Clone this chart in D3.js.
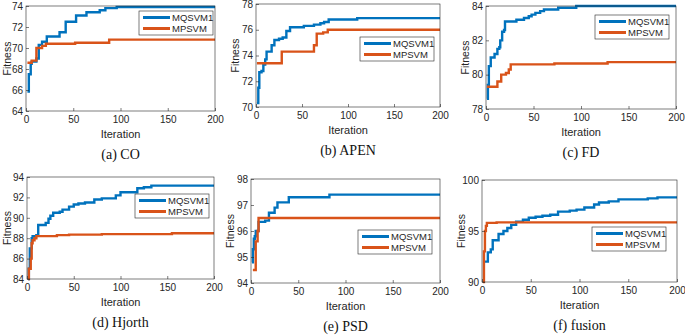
<!DOCTYPE html>
<html>
<head>
<meta charset="utf-8">
<script src="https://cdn.jsdelivr.net/npm/d3@7"></script>
<style>
  body { margin: 0; background: #fff; }
  svg { display: block; }
</style>
</head>
<body>
<svg id="chart" width="685" height="336"></svg>
<script>
// series: [iteration, fitness] breakpoints of the stair curves
const seriesNames = ["MQSVM1", "MPSVM"];
const captions = ["(a) CO", "(b) APEN", "(c) FD", "(d) Hjorth", "(e) PSD", "(f) fusion"];
const yDomains = [[64, 74], [70, 78], [78, 84], [84, 94], [94, 98], [90, 100]];
const yTicks = [[64, 66, 68, 70, 72, 74], [70, 72, 74, 76, 78], [78, 80, 82, 84],
                [84, 86, 88, 90, 92, 94], [94, 95, 96, 97, 98], [90, 95, 100]];
const xTicks = [0, 50, 100, 150, 200];

const coBlue = [[1.5, 65.85], [3, 67.5], [5, 68.5], [6, 68.7], [11, 69.0], [13.5, 70.3], [17, 70.6],
  [22, 71.1], [35.5, 71.5], [42, 72.5], [53, 73.1], [64, 73.4], [78, 73.6], [84, 73.8], [96, 73.9]];
const coOrange = [[1.5, 68.6], [6, 68.8], [11, 70.0], [17, 70.2], [21, 70.4], [52, 70.5], [88, 70.8]];

const apenBlue = [[1, 70.3], [2.5, 71.5], [3.6, 72.7], [6, 72.8], [8, 73.3], [10, 73.7], [11.5, 74.3],
  [17, 74.8], [20, 75.2], [25, 75.3], [29, 75.4], [33, 75.9], [37, 76.2], [52, 76.3], [63, 76.4],
  [70, 76.5], [74, 76.6], [79, 76.8], [110, 76.9]];
const apenOrange = [[1, 73.4], [28, 74.3], [60, 74.3], [63, 74.8], [66, 75.7], [73, 75.8], [78, 76.0]];

const fdBlue = [[1, 78.6], [2, 79.4], [3, 80.5], [5, 81.0], [9, 81.2], [12, 81.5], [14, 81.6], [15, 82.0],
  [17, 82.5], [19, 82.6], [20, 83.1], [32, 83.2], [40, 83.3], [45, 83.4], [48, 83.5], [52, 83.6],
  [57, 83.7], [61, 83.8], [76, 83.9], [95, 84.0]];
const fdOrange = [[1, 79.3], [12, 79.6], [16, 80.0], [21, 80.1], [24, 80.3], [26, 80.6], [72, 80.65], [128, 80.73]];

const hjBlue = [[1, 84.0], [2, 85.0], [3, 87.0], [5, 88.0], [6, 88.2], [10, 88.3], [12, 89.3], [20, 89.5],
  [23, 89.9], [25, 90.2], [28, 90.5], [35, 90.6], [38, 90.8], [45, 91.1], [50, 91.3], [55, 91.4],
  [62, 91.5], [72, 91.8], [80, 91.9], [95, 92.2], [100, 92.5], [118, 92.9], [125, 93.0], [133, 93.15]];
const hjOrange = [[1, 84.0], [2, 85.0], [4, 86.0], [5, 87.5], [6, 87.8], [8, 88.0], [10, 88.2],
  [32, 88.3], [45, 88.35], [80, 88.4], [155, 88.48]];

const psdBlue = [[1, 94.8], [2, 95.3], [3, 95.7], [4, 95.8], [5, 96.0], [8, 96.35], [15, 96.4],
  [19, 96.7], [25, 96.9], [28, 97.1], [40, 97.3], [83, 97.4]];
const psdOrange = [[2, 94.5], [5, 95.6], [7, 96.0], [8, 96.5]];

const fuBlue = [[3, 92.0], [6, 92.9], [9, 93.2], [11, 94.1], [17, 94.7], [22, 95.0], [26, 95.3],
  [30, 95.6], [35, 95.9], [42, 96.1], [48, 96.3], [55, 96.4], [62, 96.5], [70, 96.6], [78, 96.9],
  [90, 97.0], [97, 97.1], [105, 97.3], [115, 97.6], [120, 97.8], [130, 97.9], [140, 98.1],
  [170, 98.2], [180, 98.3]];
const fuOrange = [[1, 90.0], [2, 93.0], [3, 95.0], [4, 95.5], [5, 95.8], [15, 95.85]];

const panelSeries = [[coBlue, coOrange], [apenBlue, apenOrange], [fdBlue, fdOrange],
  [hjBlue, hjOrange], [psdBlue, psdOrange], [fuBlue, fuOrange]];

// layout (pixel boxes of each axes and legend)
const boxes = [
  {l: 26, r: 215, t: 6, b: 111, lg: [139, 11]},
  {l: 256, r: 440, t: 4, b: 107, lg: [360, 37]},
  {l: 486, r: 676, t: 6, b: 109, lg: [595, 15]},
  {l: 27, r: 214, t: 177, b: 279, lg: [135, 194]},
  {l: 251, r: 440, t: 179, b: 283, lg: [358, 230]},
  {l: 482, r: 677, t: 180, b: 282, lg: [592, 227]}
];
const colors = ["#0072BD", "#D95319"];
const axisColor = "#262626";
const font = "'Liberation Sans', Arial, sans-serif";

const svg = d3.select("#chart");

boxes.forEach((bx, i) => {
  const x = d3.scaleLinear().domain([0, 200]).range([bx.l, bx.r]);
  const y = d3.scaleLinear().domain(yDomains[i]).range([bx.b, bx.t]);
  const g = svg.append("g");

  g.append("rect")
    .attr("x", bx.l).attr("y", bx.t)
    .attr("width", bx.r - bx.l).attr("height", bx.b - bx.t)
    .attr("fill", "#fff");

  const line = d3.line()
    .x(d => x(d[0]))
    .y(d => y(d[1]))
    .curve(d3.curveStepAfter);

  panelSeries[i].forEach((s, k) => {
    const pts = s.concat([[200, s[s.length - 1][1]]]);
    g.append("path")
      .attr("d", line(pts))
      .attr("fill", "none")
      .attr("stroke", colors[k])
      .attr("stroke-width", 2.4);
  });

  // axes with inward ticks (MATLAB style)
  const xa = g.append("g").attr("transform", `translate(0,${bx.b})`)
    .call(d3.axisBottom(x).tickValues(xTicks).tickFormat(d3.format("d"))
      .tickSize(-3).tickPadding(5).tickSizeOuter(0));
  const ya = g.append("g").attr("transform", `translate(${bx.l},0)`)
    .call(d3.axisLeft(y).tickValues(yTicks[i]).tickFormat(d3.format("d"))
      .tickSize(-3).tickPadding(3).tickSizeOuter(0));
  [xa, ya].forEach(a => {
    a.selectAll("path").remove();
    a.selectAll("line").attr("stroke", axisColor).attr("stroke-width", 0.6);
    a.selectAll("text").attr("fill", axisColor).style("font-family", font).style("font-size", "10px");
  });

  g.append("rect")
    .attr("x", bx.l).attr("y", bx.t)
    .attr("width", bx.r - bx.l).attr("height", bx.b - bx.t)
    .attr("fill", "none").attr("stroke", axisColor).attr("stroke-width", 0.6);

  g.append("text")
    .attr("x", (bx.l + bx.r) / 2).attr("y", bx.b + 27)
    .attr("text-anchor", "middle")
    .attr("fill", axisColor)
    .style("font-family", font).style("font-size", "11px")
    .text("Iteration");

  g.append("text")
    .attr("transform", `translate(${Math.max(bx.l - 17, 11)},${(bx.t + bx.b) / 2}) rotate(-90)`)
    .attr("text-anchor", "middle")
    .attr("fill", axisColor)
    .style("font-family", font).style("font-size", "10.5px")
    .text("Fitness");

  g.append("text")
    .attr("x", (bx.l + bx.r) / 2).attr("y", bx.b + 48)
    .attr("text-anchor", "middle")
    .attr("fill", "#111")
    .style("font-family", "'Liberation Serif', 'Times New Roman', serif").style("font-size", "14px")
    .text(captions[i]);

  // legend
  const [lx, ly] = bx.lg;
  const lg = g.append("g").attr("transform", `translate(${lx},${ly})`);
  lg.append("rect").attr("width", 74).attr("height", 24)
    .attr("fill", "#fff").attr("stroke", axisColor).attr("stroke-width", 0.6);
  seriesNames.forEach((n, k) => {
    const yy = 6.5 + k * 11;
    lg.append("line").attr("x1", 4).attr("x2", 31).attr("y1", yy).attr("y2", yy)
      .attr("stroke", colors[k]).attr("stroke-width", 3);
    lg.append("text").attr("x", 33).attr("y", yy + 3.5)
      .attr("fill", axisColor)
      .style("font-family", font).style("font-size", "9.5px")
      .text(n);
  });
});
</script>
</body>
</html>
